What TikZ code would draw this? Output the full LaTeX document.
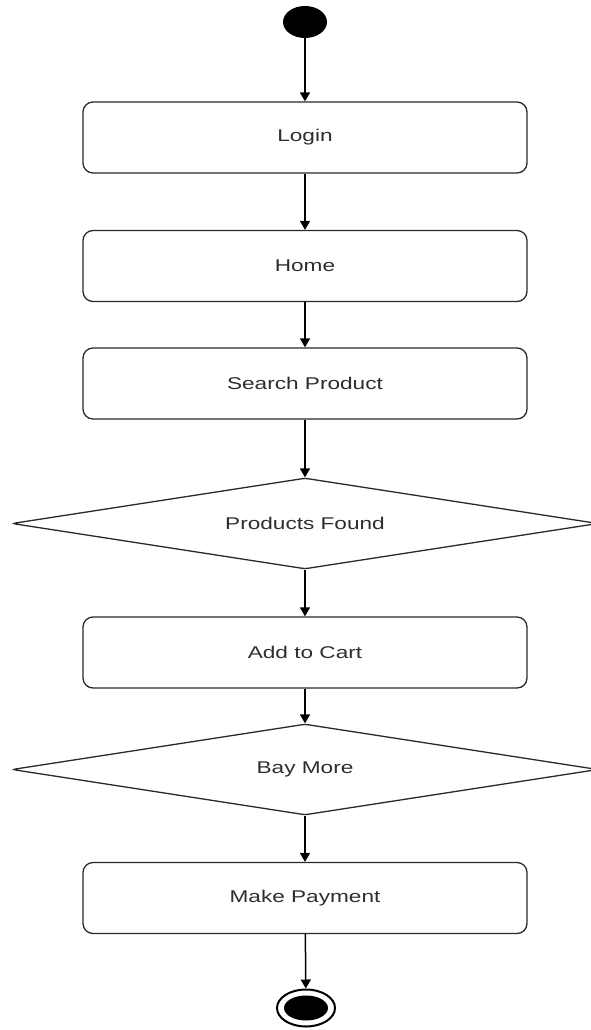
\documentclass[tikz,border=0pt]{standalone}
\usepackage{fontspec}
\usepackage{graphicx}
\setmainfont{Liberation Sans}
\usetikzlibrary{arrows.meta,shapes.geometric}
\newcommand\sx[1]{\scalebox{1.33}[1]{#1}}
\definecolor{txt}{HTML}{2E2E2E}
\definecolor{ln}{HTML}{2A2A2A}
\tikzset{
  actbox/.style={draw=ln, line width=1.3pt, rounded corners=10pt, fill=white,
    minimum width=444pt, minimum height=71pt, text=txt,
    font=\fontsize{17}{20}\selectfont, inner sep=0pt},
  decbox/.style={draw=ln, line width=1.3pt, diamond, aspect=6.44, rounded corners=3pt, fill=white,
    minimum width=586pt, minimum height=91pt, text=txt,
    font=\fontsize{17}{20}\selectfont, inner sep=0pt},
  flow/.style={draw=black, line width=1.5pt, -{Triangle[width=10pt,length=9pt]}},
}
\begin{document}
\begin{tikzpicture}[x=1pt,y=-1pt]
\useasboundingbox (0,0) rectangle (590,1030);
\node[draw=none, fill=black, ellipse, minimum width=44pt, minimum height=32pt, inner sep=0pt] (start) at (305,22) {};
\node[actbox] (login) at (305,137.5) {\sx{Login}};
\node[actbox] (home) at (305,266) {\sx{Home}};
\node[actbox] (search) at (305,383.5) {\sx{Search Product}};
\node[decbox] (found) at (305,523.5) {\sx{Products Found}};
\node[actbox] (cart) at (305,652.5) {\sx{Add to Cart}};
\node[decbox] (more) at (305,769.5) {\sx{Bay More}};
\node[actbox] (pay) at (305,898) {\sx{Make Payment}};
\node[draw=black, line width=2pt, ellipse, minimum width=58pt, minimum height=37pt, inner sep=0pt] (end) at (306,1008) {};
\node[fill=black, ellipse, minimum width=44pt, minimum height=25pt, inner sep=0pt] (endin) at (306,1008) {};
\draw[flow] (start) -- (login);
\draw[flow] (login) -- (home);
\draw[flow] (home) -- (search);
\draw[flow] (search) -- (found);
\draw[flow] (found) -- (cart);
\draw[flow] (cart) -- (more);
\draw[flow] (more) -- (pay);
\draw[flow] (pay) -- (end);
\end{tikzpicture}
\end{document}
